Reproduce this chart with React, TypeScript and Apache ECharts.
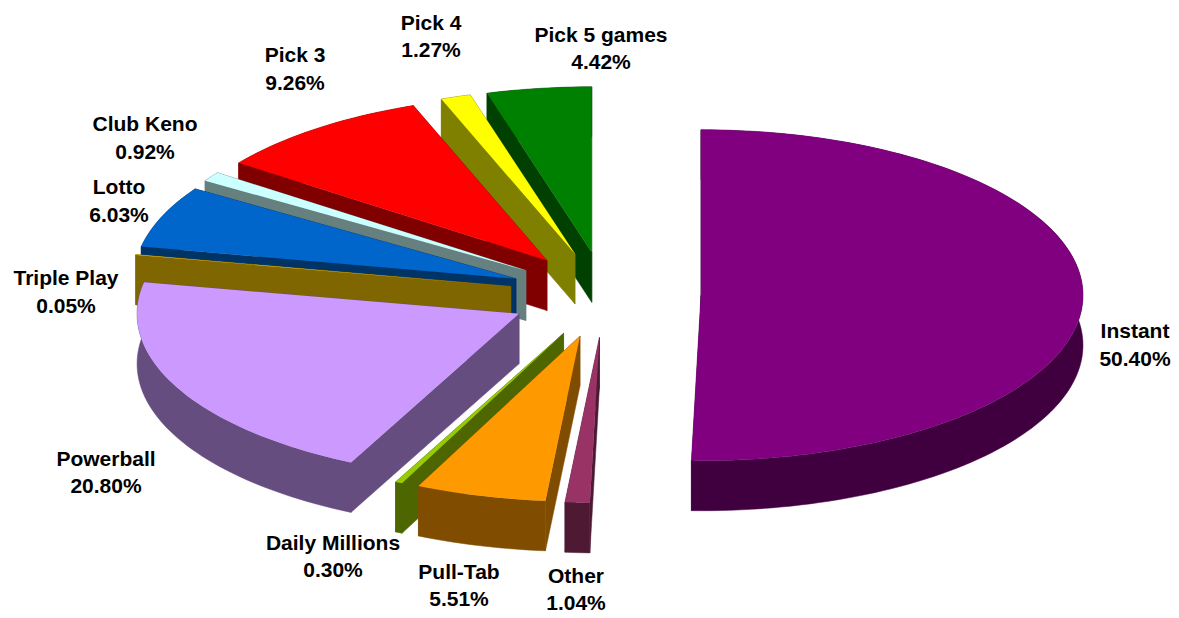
import React, { useEffect, useRef } from "react";
import * as echarts from "echarts";

const names = ["Instant", "Other", "Pull-Tab", "Daily Millions", "Powerball", "Triple Play", "Lotto", "Club Keno", "Pick 3", "Pick 4", "Pick 5 games"];
const shares = [50.4, 1.04, 5.51, 0.3, 20.8, 0.05, 6.03, 0.92, 9.26, 1.27, 4.42];
const shareLabels = ["50.40%", "1.04%", "5.51%", "0.30%", "20.80%", "0.05%", "6.03%", "0.92%", "9.26%", "1.27%", "4.42%"];
const topColors = ["#800080", "#993366", "#ff9900", "#99cc00", "#cc99ff", "#ffcc00", "#0066cc", "#ccffff", "#ff0000", "#ffff00", "#008000"];
const wallColors = ["#400040", "#4d1933", "#804d00", "#4d6600", "#664d80", "#806600", "#003366", "#668080", "#800000", "#808000", "#004000"];
const labelCentres = [
  [1135, 344.5], [576, 589], [459, 585], [333, 556], [106, 472], [66, 291.5],
  [119, 200.5], [145, 137.5], [295, 68.5], [431, 36], [601, 48],
];

const CX = 605;
const CY = 294.7;
const RX = 382;
const RY = 165.5;
const EXPLODE_X = 96;
const EXPLODE_Y = 42.8;
const DEPTH = 50;

const total = shares.reduce((a, b) => a + b, 0);
const rad = (deg: number) => (deg * Math.PI) / 180;
const slices = (() => {
  let cum = 0;
  return shares.map((s, i) => {
    const start = (cum / total) * 360;
    cum += s;
    const end = (cum / total) * 360;
    const mid = (start + end) / 2;
    return {
      i,
      start,
      end,
      ax: CX + EXPLODE_X * Math.sin(rad(mid)),
      ay: CY - EXPLODE_Y * Math.cos(rad(mid)),
    };
  });
})();
const drawOrder = [...slices].sort((a, b) => a.ay - b.ay);

function renderSlice(params: any) {
  const s = drawOrder[params.dataIndex];
  const arc: number[][] = [];
  const steps = Math.max(1, Math.ceil((s.end - s.start) / 1.5));
  for (let k = 0; k <= steps; k++) {
    const a = rad(s.start + ((s.end - s.start) * k) / steps);
    arc.push([s.ax + RX * Math.sin(a), s.ay - RY * Math.cos(a)]);
  }
  const down = (p: number[]) => [p[0], p[1] + DEPTH];
  const apex = [s.ax, s.ay];
  const first = arc[0];
  const last = arc[arc.length - 1];
  const wallStyle = { fill: wallColors[s.i], stroke: wallColors[s.i], lineWidth: 0.5 };
  const [lx, ly] = labelCentres[s.i];
  return {
    type: "group",
    children: [
      { type: "polygon", shape: { points: [apex, first, down(first), down(apex)] }, style: wallStyle },
      { type: "polygon", shape: { points: [apex, last, down(last), down(apex)] }, style: wallStyle },
      { type: "polygon", shape: { points: [...arc, ...arc.map(down).reverse()] }, style: wallStyle },
      { type: "polygon", shape: { points: [apex, ...arc] }, style: { fill: topColors[s.i] } },
      {
        type: "text",
        x: lx,
        y: ly,
        style: {
          text: `${names[s.i]}\n${shareLabels[s.i]}`,
          fill: "#000000",
          font: 'bold 21px "Liberation Sans", Arial, sans-serif',
          align: "center",
          verticalAlign: "middle",
          lineHeight: 27.5,
        },
      },
    ],
  };
}

export default function App() {
  const ref = useRef<HTMLDivElement>(null);
  useEffect(() => {
    document.body.style.margin = "0";
    const chart = echarts.init(ref.current!, undefined, { renderer: "svg" });
    chart.setOption({
      animation: false,
      backgroundColor: "#ffffff",
      series: [
        {
          type: "custom",
          coordinateSystem: "none",
          silent: true,
          renderItem: renderSlice,
          data: drawOrder.map((s) => ({ name: names[s.i], value: shares[s.i] })),
        },
      ],
    });
    return () => chart.dispose();
  }, []);
  return <div ref={ref} style={{ width: 1179, height: 618 }} />;
}
